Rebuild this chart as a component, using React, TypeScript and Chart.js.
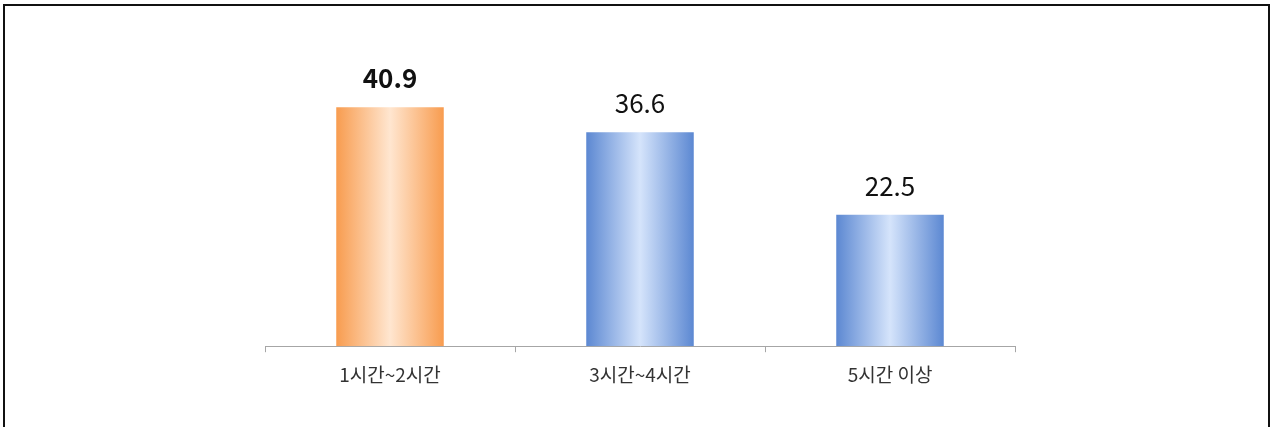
import React, { useEffect, useRef } from "react";
import { Chart, registerables } from "chart.js";

Chart.register(...registerables);

const categories = ["1시간~2시간", "3시간~4시간", "5시간 이상"];
const values = [40.9, 36.6, 22.5];
const boldIndex = [true, false, false];
const edgeColors = ["#F89C4F", "#5C88D2", "#5C88D2"];
const centerColors = ["#FFE6D0", "#D5E4FB", "#D5E4FB"];

const FONT = "'Noto Sans CJK KR', 'Noto Sans', sans-serif";
const BAR_FRACTION = 0.43;

export default function App() {
  const ref = useRef<HTMLCanvasElement | null>(null);

  useEffect(() => {
    if (!ref.current) return;

    const labelPlugin = {
      id: "valueLabels",
      afterDatasetsDraw(chart: any) {
        const ctx = chart.ctx;
        const meta = chart.getDatasetMeta(0);
        ctx.save();
        ctx.textAlign = "center";
        ctx.textBaseline = "middle";
        ctx.fillStyle = "#111111";
        meta.data.forEach((el: any, i: number) => {
          ctx.font = (boldIndex[i] ? "bold " : "") + "26px " + FONT;
          ctx.fillText(values[i].toFixed(1), el.x, el.y - 29);
        });
        ctx.restore();
      },
    };

    const chart = new Chart(ref.current, {
      type: "bar",
      data: {
        labels: categories,
        datasets: [
          {
            data: values,
            barPercentage: BAR_FRACTION,
            categoryPercentage: 1,
            borderWidth: 0,
            backgroundColor: (c: any) => {
              const ch = c.chart;
              const xs = ch.scales.x;
              if (!xs || !ch.chartArea) return edgeColors[c.dataIndex];
              const cx = xs.getPixelForValue(c.dataIndex);
              const w = (ch.chartArea.width / categories.length) * BAR_FRACTION;
              const g = ch.ctx.createLinearGradient(cx - w / 2, 0, cx + w / 2, 0);
              g.addColorStop(0, edgeColors[c.dataIndex]);
              g.addColorStop(0.5, centerColors[c.dataIndex]);
              g.addColorStop(1, edgeColors[c.dataIndex]);
              return g;
            },
          },
        ],
      },
      options: {
        animation: false,
        responsive: false,
        maintainAspectRatio: false,
        layout: { padding: { left: 265, right: 258, top: 54, bottom: 30 } },
        plugins: {
          legend: { display: false },
          tooltip: { enabled: false },
        },
        scales: {
          x: {
            grid: {
              display: true,
              drawOnChartArea: false,
              drawTicks: true,
              tickLength: 6,
              color: "#A6A6A6",
              offset: true,
            },
            border: { display: true, color: "#A6A6A6", width: 1 },
            ticks: {
              color: "#333333",
              padding: 11,
              font: { family: FONT, size: 19 },
            },
          },
          y: {
            display: false,
            min: 0,
            max: 50,
          },
        },
      },
      plugins: [labelPlugin],
    });

    return () => chart.destroy();
  }, []);

  return (
    <div
      style={{
        position: "absolute",
        left: 0,
        top: 0,
        width: 1273,
        height: 427,
        overflow: "hidden",
        background: "#ffffff",
      }}
    >
      <div
        style={{
          position: "absolute",
          left: 3,
          top: 4,
          width: 1267,
          height: 440,
          border: "2px solid #111111",
          boxSizing: "border-box",
        }}
      />
      <canvas
        ref={ref}
        width={1273}
        height={427}
        style={{ position: "absolute", left: 0, top: 0, width: 1273, height: 427 }}
      />
    </div>
  );
}
